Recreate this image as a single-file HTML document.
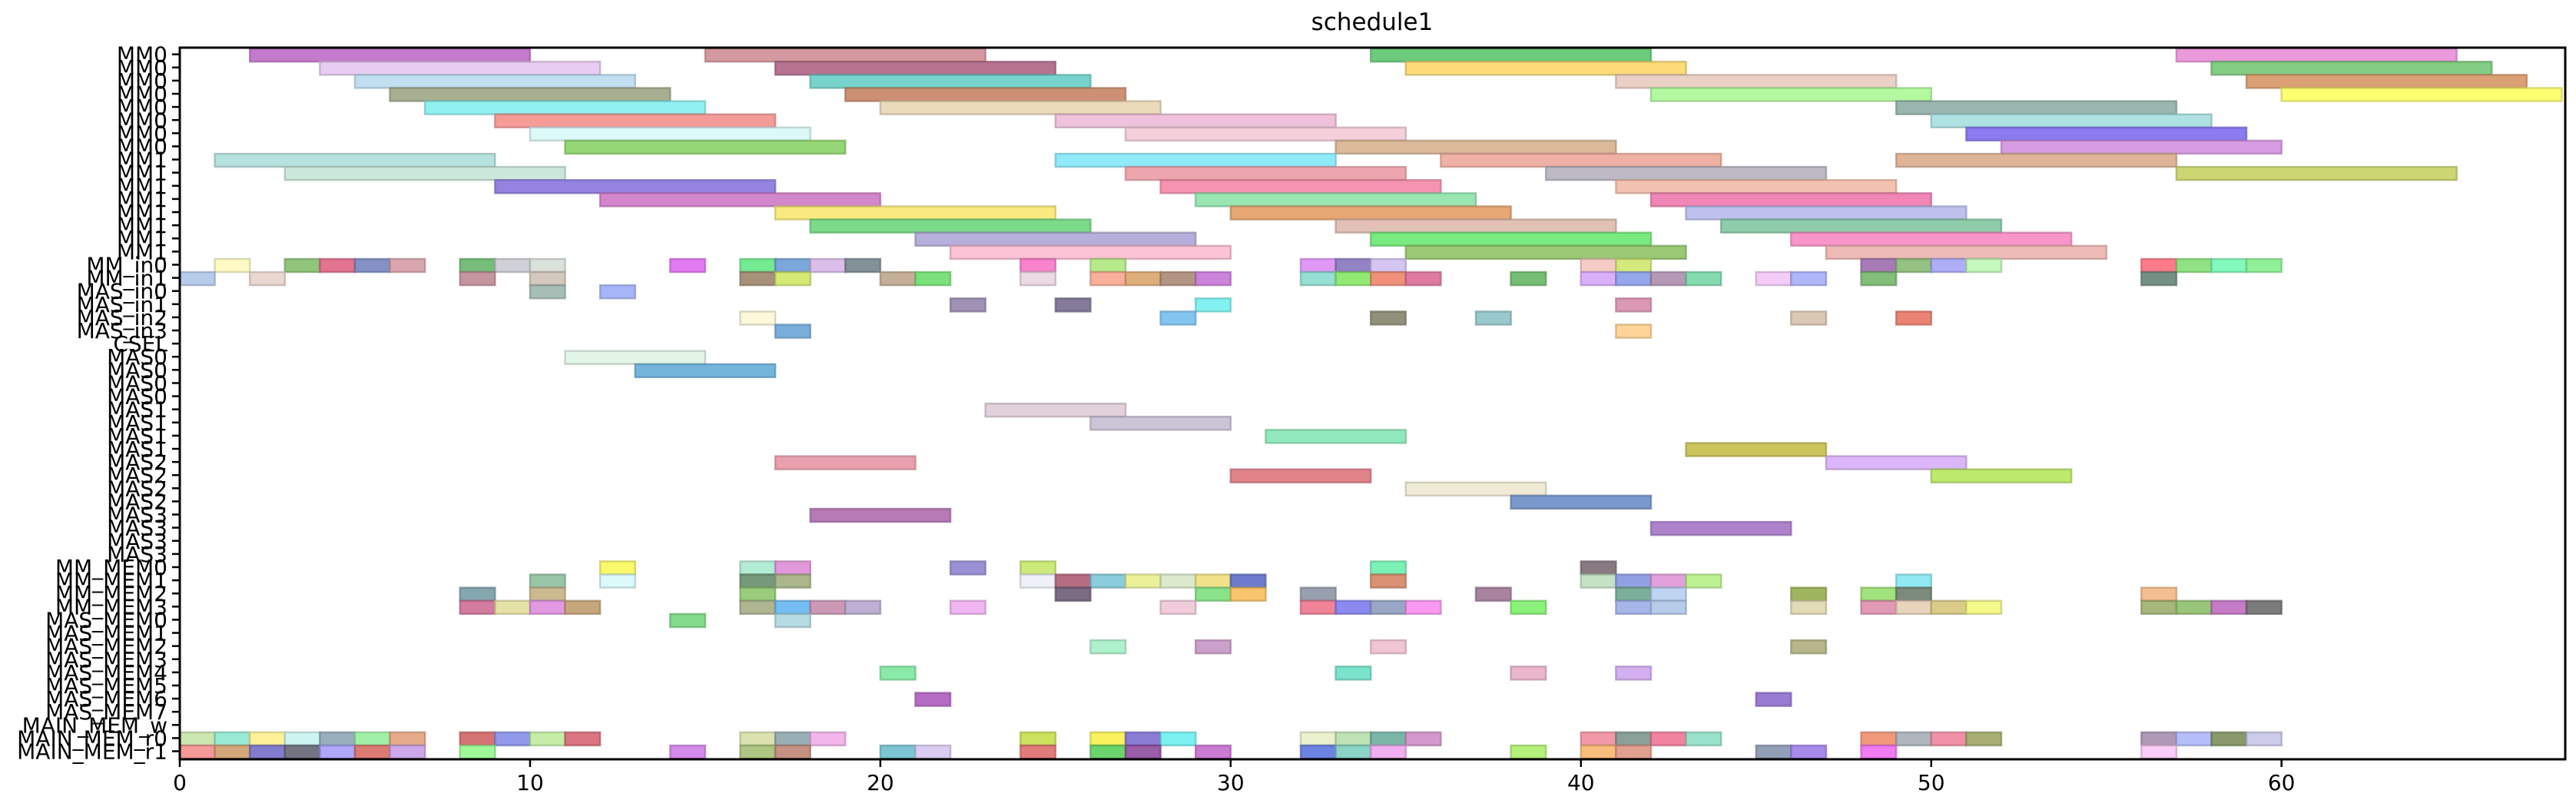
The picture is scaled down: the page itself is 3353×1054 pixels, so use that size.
<!DOCTYPE html>
<html><head><meta charset="utf-8"><title>schedule1</title>
<style>html,body{margin:0;padding:0;background:#fff;}svg{display:block;}</style></head>
<body>
<svg id="chart" width="3353" height="1054" viewBox="0 0 3353 1054" xmlns="http://www.w3.org/2000/svg" font-family="'DejaVu Sans','Liberation Sans',sans-serif">
<rect width="3353" height="1054" fill="#fff"/>
<text x="1786" y="39" font-size="31" text-anchor="middle">schedule1</text>
<g id="bars"></g>
<g id="yaxis"></g>
<g id="xaxis"></g>
<rect x="234" y="62" width="3105" height="926" fill="none" stroke="#000" stroke-width="3"/>
</svg>
<script>
const rowLabels = ["MM0","MM0","MM0","MM0","MM0","MM0","MM0","MM0","MM1","MM1","MM1","MM1","MM1","MM1","MM1","MM1","MM_in0","MM_in1","MAS_in0","MAS_in1","MAS_in2","MAS_in3","CSEL","MAS0","MAS0","MAS0","MAS0","MAS1","MAS1","MAS1","MAS1","MAS2","MAS2","MAS2","MAS2","MAS3","MAS3","MAS3","MAS3","MM_MEM0","MM_MEM1","MM_MEM2","MM_MEM3","MAS_MEM0","MAS_MEM1","MAS_MEM2","MAS_MEM3","MAS_MEM4","MAS_MEM5","MAS_MEM6","MAS_MEM7","MAIN_MEM_w","MAIN_MEM_r0","MAIN_MEM_r1"];
const xTicks = [0,10,20,30,40,50,60];
// tasks: [row, start, end, color]
const tasks = [
[0,2,10,"#c070c8"],[0,15,23,"#d09098"],[0,34,42,"#60c870"],[0,57,65,"#e890d8"],
[1,4,12,"#e6c8f0"],[1,17,25,"#b06888"],[1,35,43,"#fcd86c"],[1,58,66,"#78c878"],
[2,5,13,"#bcdcf0"],[2,18,26,"#6ccfc8"],[2,41,49,"#e8ccc0"],[2,59,67,"#d89868"],
[3,6,14,"#a0a888"],[3,19,27,"#c88868"],[3,42,50,"#aef898"],[3,60,68,"#ffff66"],
[4,7,15,"#88f0f0"],[4,20,28,"#ead8b4"],[4,49,57,"#90b0a8"],
[5,9,17,"#f49490"],[5,25,33,"#eebcd8"],[5,50,58,"#a8dfe0"],
[6,10,18,"#d8f8f8"],[6,27,35,"#f4ccd8"],[6,51,59,"#8070ee"],
[7,11,19,"#8cd46a"],[7,33,41,"#d8b490"],[7,52,60,"#d494e0"],
[8,1,9,"#b0e0dc"],[8,25,33,"#88e8f8"],[8,36,44,"#eeaa9c"],[8,49,57,"#dcae90"],
[9,3,11,"#c8e6d8"],[9,27,35,"#eea0a8"],[9,39,47,"#b8b4c0"],[9,57,65,"#c8d468"],
[10,9,17,"#8c78e0"],[10,28,36,"#f48aaa"],[10,41,49,"#f2bca8"],
[11,12,20,"#d07cc8"],[11,29,37,"#90e4ac"],[11,42,50,"#f07cb0"],
[12,17,25,"#f8e874"],[12,30,38,"#e4a068"],[12,43,51,"#b8bcec"],
[13,18,26,"#70d880"],[13,33,41,"#e0bcb0"],[13,44,52,"#86c8a4"],
[14,21,29,"#b0a8d8"],[14,34,42,"#6ce874"],[14,46,54,"#f88cc4"],
[15,22,30,"#fbbcd0"],[15,35,43,"#90c468"],[15,47,55,"#ecb4b0"],
[16,1,2,"#fffac0"],[16,3,4,"#88c070"],[16,4,5,"#e06888"],[16,5,6,"#7888c0"],[16,6,7,"#d8a0a8"],[16,8,9,"#6cb870"],[16,9,10,"#ccccd8"],[16,10,11,"#d8e0d8"],[16,14,15,"#e070f0"],[16,16,17,"#68e888"],[16,17,18,"#70a0d8"],[16,18,19,"#d8b8e8"],[16,19,20,"#788890"],[16,24,25,"#f878c8"],[16,26,27,"#b0e880"],[16,32,33,"#dc90f4"],[16,33,34,"#8a78c0"],[16,34,35,"#d0c0f0"],[16,40,41,"#f4c8c0"],[16,41,42,"#d0e870"],[16,48,49,"#a070b0"],[16,49,50,"#8cbc78"],[16,50,51,"#a8a8f8"],[16,51,52,"#c0f8b8"],[16,56,57,"#ff7080"],[16,57,58,"#88e078"],[16,58,59,"#78f8b8"],[16,59,60,"#88f090"],
[17,0,1,"#b0c8e8"],[17,2,3,"#e8d4cc"],[17,8,9,"#c08c98"],[17,10,11,"#d0c4b8"],[17,16,17,"#a08870"],[17,17,18,"#d0e868"],[17,20,21,"#c0a890"],[17,21,22,"#70e070"],[17,24,25,"#ead8e0"],[17,26,27,"#f8a890"],[17,27,28,"#dca870"],[17,28,29,"#ac8c78"],[17,29,30,"#c878d8"],[17,32,33,"#8cdcd0"],[17,33,34,"#88e868"],[17,34,35,"#f08870"],[17,35,36,"#dc7098"],[17,38,39,"#6ab868"],[17,40,41,"#d8a8f8"],[17,41,42,"#8aa0e8"],[17,42,43,"#b090b0"],[17,43,44,"#78d8a8"],[17,45,46,"#f4c8f8"],[17,46,47,"#a8b0f8"],[17,48,49,"#78b870"],[17,56,57,"#6a8878"],
[18,10,11,"#a0b8b0"],[18,12,13,"#a0b0f8"],
[19,22,23,"#9888b0"],[19,25,26,"#787090"],[19,29,30,"#78f0f0"],[19,41,42,"#d890b0"],
[20,16,17,"#fcf8d8"],[20,28,29,"#78c0f0"],[20,34,35,"#888870"],[20,37,38,"#90c4c8"],[20,46,47,"#d8c4b0"],[20,49,50,"#e87868"],
[21,17,18,"#70a8d8"],[21,41,42,"#ffd090"],
[23,11,15,"#e0f4e4"],[24,13,17,"#68b0d8"],
[27,23,27,"#e0ccd8"],[28,26,30,"#c8c0d4"],[29,31,35,"#88e8b8"],[30,43,47,"#c8c050"],
[31,17,21,"#e898a8"],[31,47,51,"#d8b0f8"],[32,30,34,"#e07880"],[32,50,54,"#b8e860"],[33,35,39,"#f0e8d4"],[34,38,42,"#7090c8"],
[35,18,22,"#b070b0"],[36,42,46,"#a878c8"],
[39,12,13,"#f8f860"],[39,16,17,"#acead0"],[39,17,18,"#e090d8"],[39,22,23,"#9088d0"],[39,24,25,"#c8e870"],[39,34,35,"#70f0b0"],[39,40,41,"#807078"],
[40,10,11,"#90c0a0"],[40,12,13,"#d8f8f8"],[40,16,17,"#6a9070"],[40,17,18,"#a4b080"],[40,24,25,"#eef0f8"],[40,25,26,"#b06078"],[40,26,27,"#80c8d8"],[40,27,28,"#e8f090"],[40,28,29,"#d8e8c8"],[40,29,30,"#f0e080"],[40,30,31,"#6070c8"],[40,34,35,"#d88868"],[40,40,41,"#c0e0c0"],[40,41,42,"#8898e0"],[40,42,43,"#e098d8"],[40,43,44,"#b8f088"],[40,49,50,"#88e8f0"],
[41,8,9,"#7aa0a8"],[41,10,11,"#c8b488"],[41,16,17,"#90c870"],[41,25,26,"#706078"],[41,29,30,"#80e080"],[41,30,31,"#f8c060"],[41,32,33,"#9098a8"],[41,37,38,"#a07898"],[41,41,42,"#70a890"],[41,42,43,"#b8d0f0"],[41,46,47,"#98b050"],[41,48,49,"#98e070"],[41,49,50,"#708070"],[41,56,57,"#f4b888"],
[42,8,9,"#d07098"],[42,9,10,"#e4e0a0"],[42,10,11,"#e090e0"],[42,11,12,"#c0a070"],[42,16,17,"#a8b088"],[42,17,18,"#68b8f0"],[42,18,19,"#c890b0"],[42,19,20,"#b8a8d0"],[42,22,23,"#f0b0f0"],[42,28,29,"#f0c8d8"],[42,32,33,"#f07890"],[42,33,34,"#8080f0"],[42,34,35,"#90a0c0"],[42,35,36,"#f890f0"],[42,38,39,"#80f070"],[42,41,42,"#a0b0e8"],[42,42,43,"#b0c8e8"],[42,46,47,"#e0d8b0"],[42,48,49,"#e090b0"],[42,49,50,"#e8d0b8"],[42,50,51,"#d8c880"],[42,51,52,"#f4f880"],[42,56,57,"#a0b070"],[42,57,58,"#90c070"],[42,58,59,"#c070c0"],[42,59,60,"#707070"],
[43,14,15,"#78d880"],[43,17,18,"#b0d8e0"],
[45,26,27,"#a8f0c8"],[45,29,30,"#c898c8"],[45,34,35,"#f0c0d0"],[45,46,47,"#b0b080"],
[47,20,21,"#80e8a0"],[47,33,34,"#70e0c8"],[47,38,39,"#e8b0c8"],[47,41,42,"#d0a8f0"],
[49,21,22,"#b060c0"],[49,45,46,"#9070d0"],
[52,0,1,"#c8e4a8"],[52,1,2,"#90e8d0"],[52,2,3,"#fff090"],[52,3,4,"#c8f4f0"],[52,4,5,"#90a8b8"],[52,5,6,"#98f0a0"],[52,6,7,"#e4a480"],[52,8,9,"#d06868"],[52,9,10,"#8890e8"],[52,10,11,"#c0eca0"],[52,11,12,"#d86878"],[52,16,17,"#d8e0a8"],[52,17,18,"#90a8b0"],[52,18,19,"#f0b0e8"],[52,24,25,"#c8e050"],[52,26,27,"#f8f050"],[52,27,28,"#8070d0"],[52,28,29,"#70f0f0"],[52,32,33,"#e8f0c8"],[52,33,34,"#b8e0b0"],[52,34,35,"#70b0a0"],[52,35,36,"#d090c8"],[52,40,41,"#f090a0"],[52,41,42,"#809890"],[52,42,43,"#f07898"],[52,43,44,"#90e0c8"],[52,48,49,"#f09070"],[52,49,50,"#a8b0b8"],[52,50,51,"#f088a0"],[52,51,52,"#a0a868"],[52,56,57,"#a890b0"],[52,57,58,"#b0b8f8"],[52,58,59,"#809060"],[52,59,60,"#c8c8e8"],
[53,0,1,"#f49090"],[53,1,2,"#d0a070"],[53,2,3,"#7870c8"],[53,3,4,"#686878"],[53,4,5,"#a8a0f8"],[53,5,6,"#d87068"],[53,6,7,"#c8a0e8"],[53,8,9,"#98f890"],[53,14,15,"#d080e8"],[53,16,17,"#a8c078"],[53,17,18,"#c08878"],[53,20,21,"#70c0d0"],[53,21,22,"#d8c8f0"],[53,24,25,"#e07070"],[53,26,27,"#60d060"],[53,27,28,"#9050a0"],[53,29,30,"#c870d0"],[53,32,33,"#6078e0"],[53,33,34,"#80d0c0"],[53,34,35,"#f0a8f0"],[53,38,39,"#b0f070"],[53,40,41,"#f8b870"],[53,41,42,"#e09888"],[53,45,46,"#8898b0"],[53,46,47,"#a080e8"],[53,48,49,"#f070f0"],[53,56,57,"#f8c8f8"]
];
const NS="http://www.w3.org/2000/svg";
const X0=234,X1=3339,Y0=62,Y1=988,XMAX=68.1;
function xs(v){return X0+(X1-X0)*v/XMAX;}
function ys(r){return 70.7+17.11*r;}
function darker(hex){const n=parseInt(hex.slice(1),16);const f=0.8;const r=Math.round(((n>>16)&255)*f),g=Math.round(((n>>8)&255)*f),b=Math.round((n&255)*f);return `rgb(${r},${g},${b})`;}
const gb=document.getElementById('bars');
tasks.forEach(t=>{
  const r=document.createElementNS(NS,'rect');
  const x=xs(t[1]),w=xs(t[2])-x;
  r.setAttribute('x',x);r.setAttribute('y',ys(t[0])-7.5);
  r.setAttribute('width',w);r.setAttribute('height',17);
  r.setAttribute('fill',t[3]);r.setAttribute('fill-opacity','0.92');
  r.setAttribute('stroke',darker(t[3]));r.setAttribute('stroke-width','2.5');r.setAttribute('stroke-opacity','0.7');
  
  
  gb.appendChild(r);
});
const gy=document.getElementById('yaxis');
rowLabels.forEach((l,i)=>{
  const y=ys(i);
  const tk=document.createElementNS(NS,'line');
  tk.setAttribute('x1',X0-10);tk.setAttribute('x2',X0);tk.setAttribute('y1',y);tk.setAttribute('y2',y);
  tk.setAttribute('stroke','#000');tk.setAttribute('stroke-width','2.5');
  
  
  gy.appendChild(tk);
  const tx=document.createElementNS(NS,'text');
  tx.setAttribute('x',X0-16);tx.setAttribute('y',y+10);tx.setAttribute('text-anchor','end');tx.setAttribute('font-size','28');
  tx.textContent=l;
  
  
  gy.appendChild(tx);
});
const gx=document.getElementById('xaxis');
xTicks.forEach(v=>{
  const x=xs(v);
  const tk=document.createElementNS(NS,'line');
  tk.setAttribute('x1',x);tk.setAttribute('x2',x);tk.setAttribute('y1',Y1);tk.setAttribute('y2',Y1+10);
  tk.setAttribute('stroke','#000');tk.setAttribute('stroke-width','2.5');
  
  
  gx.appendChild(tk);
  const tx=document.createElementNS(NS,'text');
  tx.setAttribute('x',x);tx.setAttribute('y',Y1+40);tx.setAttribute('text-anchor','middle');tx.setAttribute('font-size','28');
  tx.textContent=String(v);
  
  
  gx.appendChild(tx);
});
</script>
</body></html>
